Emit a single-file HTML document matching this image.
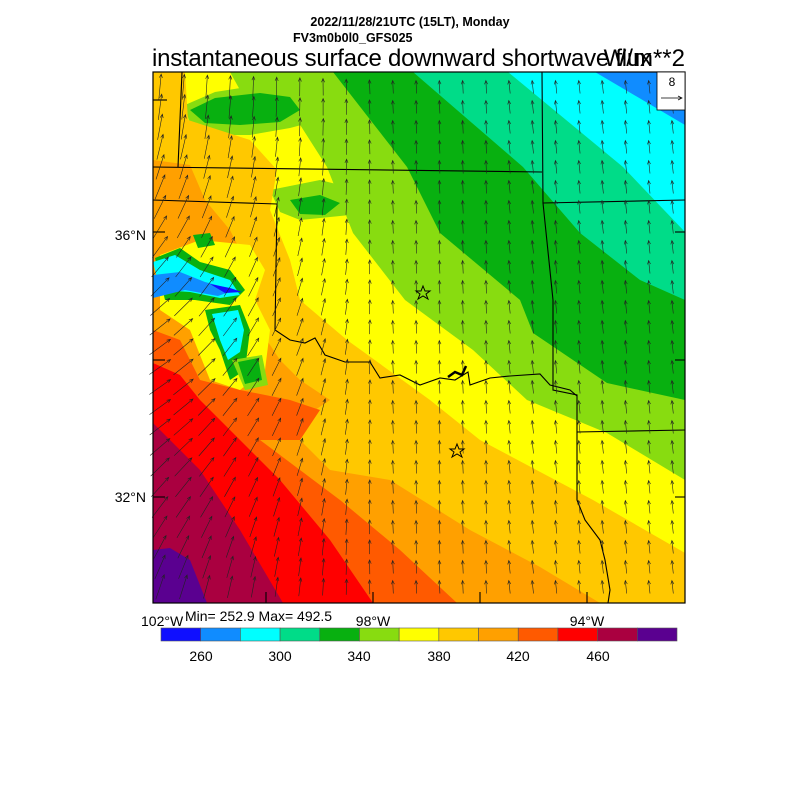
<!DOCTYPE html>
<html><head><meta charset="utf-8"><style>
body{margin:0;background:#fff;width:800px;height:800px;overflow:hidden;font-family:"Liberation Sans",sans-serif}
svg{position:absolute;left:0;top:0}
</style></head><body>
<svg id="s" width="800" height="800" viewBox="0 0 800 800" xmlns="http://www.w3.org/2000/svg">
<defs><clipPath id="c"><rect x="153" y="72" width="532" height="531"/></clipPath></defs>
<g clip-path="url(#c)">
<rect x="153" y="72" width="532" height="531" fill="#ffff00"/>
<polygon fill="#88dc10" points="283,72 685,72 685,480 607,433 527,400 473,350 405,300 353,233 327,167 297,120"/>
<polygon fill="#08b010" points="333,72 685,72 685,400 607,383 533,333 520,300 440,233 407,167"/>
<polygon fill="#00dc88" points="413,72 685,72 685,300 640,280 580,233 523,167"/>
<polygon fill="#00ffff" points="508,72 685,72 685,232 623,167"/>
<polygon fill="#108cff" points="595,72 685,72 685,125"/>
<polygon fill="#88dc10" points="185,105 215,92 260,85 300,88 330,98 320,120 290,128 250,135 215,135 190,125"/>
<polygon fill="#08b010" points="190,110 215,98 260,93 290,97 300,110 280,122 240,125 205,123"/>
<polygon fill="#88dc10" points="230,72 300,72 300,92 240,90"/>
<polygon fill="#88dc10" points="270,190 320,180 360,190 350,215 300,220 280,212"/>
<polygon fill="#08b010" points="290,200 320,195 340,203 325,215 300,214"/>
<polygon fill="#ffc800" points="153,72 185,72 188,120 250,140 277,170 270,210 290,260 300,300 347,340 430,400 480,440 593,500 685,553 685,603 153,603"/>
<polygon fill="#ffa000" points="153,160 190,165 205,200 230,230 245,260 240,300 260,330 280,360 300,380 330,400 300,420 260,420 153,400"/>
<polygon fill="#ffa000" points="153,450 250,420 300,440 330,470 390,480 470,530 540,567 600,603 153,603"/>
<polygon fill="#ff5a00" points="153,330 180,340 200,380 240,390 290,400 320,410 300,440 260,440 300,470 340,500 400,550 457,603 153,603"/>
<polygon fill="#ff0000" points="153,363 180,375 200,400 240,440 280,480 330,540 373,603 153,603"/>
<polygon fill="#aa0040" points="153,423 160,430 200,470 240,530 283,603 153,603"/>
<polygon fill="#5a0090" points="153,550 170,548 190,560 207,603 153,603"/>
<polygon fill="#ffff00" points="160,255 200,240 250,245 265,270 255,300 270,330 265,370 240,390 210,380 190,330 160,310"/>
<polygon fill="#08b010" points="155,258 180,248 200,262 230,270 245,290 230,305 195,300 165,300"/>
<polygon fill="#00ffff" points="153,262 175,255 200,270 230,280 240,295 220,298 190,292 160,290"/>
<polygon fill="#108cff" points="153,275 180,272 205,282 235,290 218,296 185,290 153,298"/>
<polygon fill="#0f0fff" points="210,284 230,288 242,292 225,293"/>
<polygon fill="#08b010" points="205,310 240,305 250,330 245,370 230,380 220,350 210,330"/>
<polygon fill="#00ffff" points="212,314 238,310 244,330 240,352 228,360 220,340"/>
<polygon fill="#88dc10" points="232,360 262,355 268,385 245,390"/>
<polygon fill="#08b010" points="238,362 258,358 262,380 245,384"/>
<polygon fill="#08b010" points="193,235 210,233 215,245 198,248"/>
</g>
<g fill="none" stroke="#000" stroke-width="1.1">
<polyline points="182,72 178,167"/>
<polyline points="153,100 167,100"/>
<polyline points="153,167 542,172"/>
<polyline points="542,72 543,203 553,300 553,390 577,395 577,500 585,520 600,540 605,560 610,590 608,603"/>
<polyline points="543,203 685,200"/>
<polyline points="577,432 685,430"/>
<polyline points="153,200 277,204 275,330 290,340 305,343 315,338 325,355 345,362 370,362 380,378 400,375 420,385 440,378 455,380 468,372 470,385 490,378 510,376 540,374 550,385 570,390 577,396"/>
<polyline points="448,377 455,372 462,375 466,366" stroke-width="2.5"/>
<polyline points="685,360 675,360"/><polyline points="685,497 675,497"/><polyline points="153,232 165,232"/><polyline points="153,497 165,497"/><polyline points="685,232 675,232"/>
<polyline points="373,603 373,592"/><polyline points="587,603 587,592"/><polyline points="480,603 480,592"/><polyline points="266,603 266,592"/><polyline points="153,360 165,360"/>
</g>
<g id="arr" stroke="#222" stroke-width="0.6" fill="none"></g>
<g fill="none" stroke="#000" stroke-width="1">
<polygon points="423,286 425,291 430,291 426,294 428,299 423,296 418,299 420,294 416,291 421,291"/>
<polygon points="457,444 459,449 464,449 460,452 462,457 457,454 452,457 454,452 450,449 455,449"/>
</g>
<rect x="153" y="72" width="532" height="531" fill="none" stroke="#000" stroke-width="1.2"/>
<rect x="657" y="72" width="28" height="38" fill="#fff" stroke="#000" stroke-width="0.8"/>
<text x="672" y="86" font-size="12" text-anchor="middle">8</text>
<line x1="661" y1="98" x2="682" y2="98" stroke="#000" stroke-width="0.7"/><polyline points="678,96 682,98 678,100" fill="none" stroke="#000" stroke-width="0.7"/>
<text x="410" y="26" font-size="12.5" font-weight="bold" text-anchor="middle">2022/11/28/21UTC (15LT), Monday</text>
<text x="293" y="42" font-size="12.5" font-weight="bold">FV3m0b0l0_GFS025</text>
<text x="152" y="66" font-size="24" textLength="500">instantaneous surface downward shortwave flux</text>
<text x="685" y="66" font-size="24" text-anchor="end">W/m**2</text>
<text x="146" y="240" font-size="14" text-anchor="end">36°N</text>
<text x="146" y="502" font-size="14" text-anchor="end">32°N</text>
<text x="141" y="626" font-size="14">102°W</text>
<text x="185" y="621" font-size="14">Min= 252.9 Max= 492.5</text>
<text x="373" y="626" font-size="14" text-anchor="middle">98°W</text>
<text x="587" y="626" font-size="14" text-anchor="middle">94°W</text>
<g id="cb" stroke="#555" stroke-width="0.6"></g>
<g font-size="14" text-anchor="middle">
<text x="201" y="661">260</text><text x="280" y="661">300</text><text x="359" y="661">340</text><text x="439" y="661">380</text><text x="518" y="661">420</text><text x="598" y="661">460</text>
</g>
</svg>
<script>
var NS="http://www.w3.org/2000/svg";
var cols=["#0f0fff","#108cff","#00ffff","#00dc88","#08b010","#88dc10","#ffff00","#ffc800","#ffa000","#ff5a00","#ff0000","#aa0040","#5a0090"];
var cb=document.getElementById("cb"),w=516/13;
cols.forEach(function(c,i){var r=document.createElementNS(NS,"rect");r.setAttribute("x",161+i*w);r.setAttribute("y",628);r.setAttribute("width",w);r.setAttribute("height",13);r.setAttribute("fill",c);cb.appendChild(r);});
var g=document.getElementById("arr"),d="";
for(var j=0;j<27;j++){for(var i=0;i<24;i++){
 var x=160+i*23.3, y=87+j*20;
 if(x>683)continue;
 var t=Math.max(0,Math.min(1,(390-x)/220));
 var a=(58*t*Math.exp(-Math.pow((y-380)/210,2))-(x>500?6:3))*Math.PI/180;
 var L=13+13*t;
 var sx=x-Math.sin(a)*L/2, sy=y+Math.cos(a)*L/2, ex=x+Math.sin(a)*L/2, ey=y-Math.cos(a)*L/2;
 if(ey<73||sy>602)continue;
 var h=4,ha=0.4;
 var b1x=ex-h*Math.sin(a-ha),b1y=ey+h*Math.cos(a-ha),b2x=ex-h*Math.sin(a+ha),b2y=ey+h*Math.cos(a+ha);
 d+="M"+sx.toFixed(1)+" "+sy.toFixed(1)+"L"+ex.toFixed(1)+" "+ey.toFixed(1)+"M"+b1x.toFixed(1)+" "+b1y.toFixed(1)+"L"+ex.toFixed(1)+" "+ey.toFixed(1)+"L"+b2x.toFixed(1)+" "+b2y.toFixed(1);
}}
var p=document.createElementNS(NS,"path");p.setAttribute("d",d);g.appendChild(p);
</script>
</body></html>
